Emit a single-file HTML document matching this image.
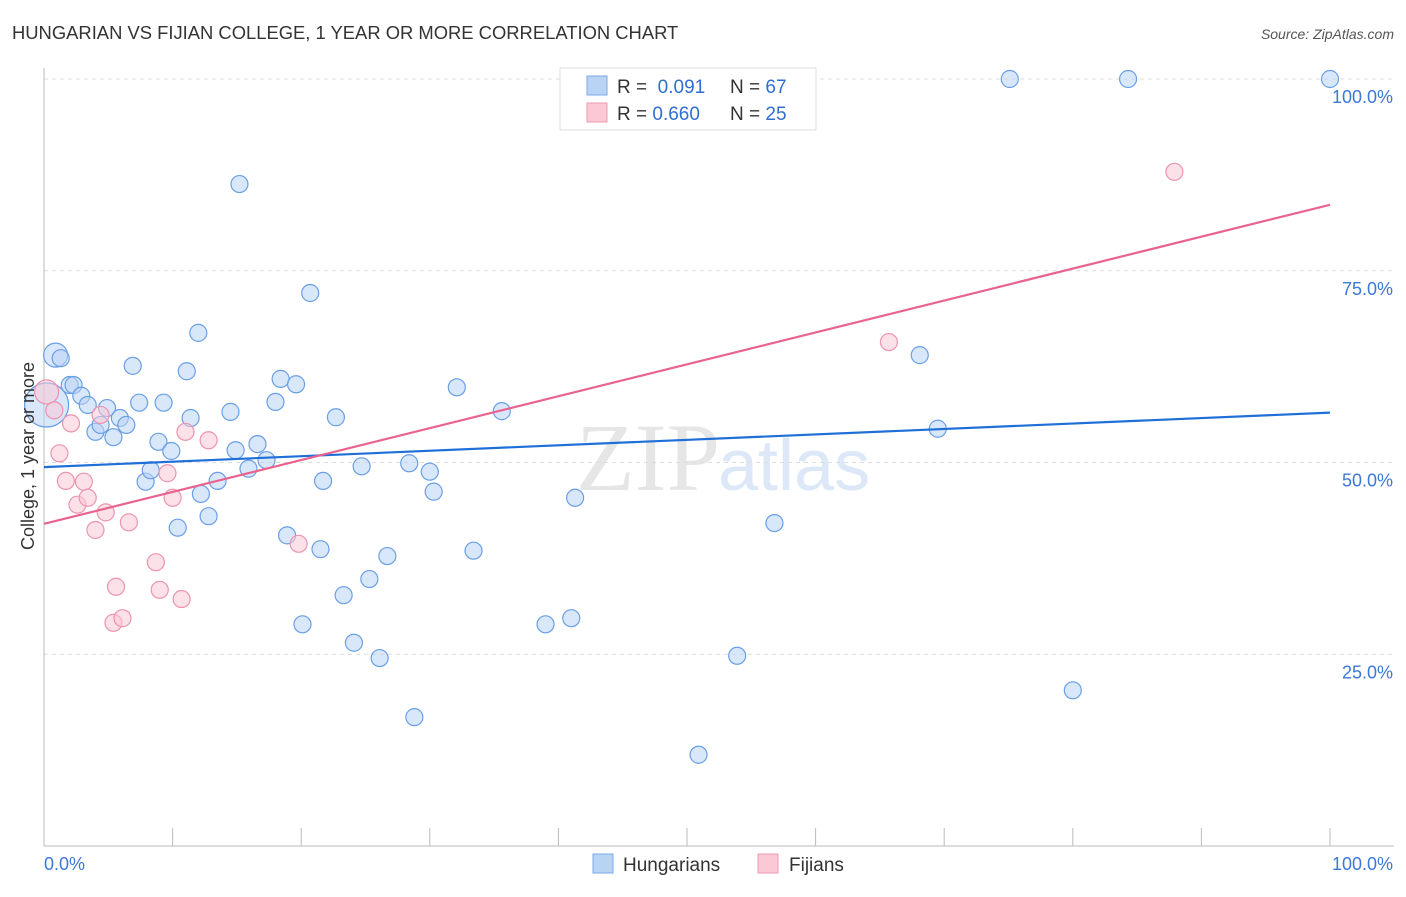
<!DOCTYPE html>
<html><head><meta charset="utf-8"><style>
body{margin:0;background:#fff;font-family:"Liberation Sans",sans-serif;}
</style></head><body>
<svg id="chart" width="1406" height="892" xmlns="http://www.w3.org/2000/svg">
<text x="12" y="39" font-size="18.4" fill="#333">HUNGARIAN VS FIJIAN COLLEGE, 1 YEAR OR MORE CORRELATION CHART</text>
<text x="1394" y="39" font-size="14" fill="#555" font-style="italic" text-anchor="end">Source: ZipAtlas.com</text>
<text x="720" y="490" font-size="96" fill="#e6e6e6" font-family="Liberation Serif,serif" text-anchor="end">ZIP</text>
<text x="718" y="490" font-size="72" fill="#dce8f7">atlas</text>
<g id="grid"></g>
<g id="axes"></g>
<g id="marks"></g>
<text transform="translate(34,456) rotate(-90)" font-size="18" fill="#333" text-anchor="middle">College, 1 year or more</text>
<g>
<rect x="560" y="68" width="256" height="62" fill="#fff" stroke="#ddd"/>
<rect x="587" y="76" width="20" height="19" fill="#b9d3f5" stroke="#7aa8e8"/>
<rect x="587" y="103" width="20" height="19" fill="#fbc8d6" stroke="#ee9ab3"/>
<text x="617" y="93" font-size="19" fill="#333">R = <tspan fill="#2f6fd1">&#160;0.091</tspan></text>
<text x="730" y="93" font-size="19" fill="#333">N = <tspan fill="#2f6fd1">67</tspan></text>
<text x="617" y="120" font-size="19" fill="#333">R = <tspan fill="#2f6fd1">0.660</tspan></text>
<text x="730" y="120" font-size="19" fill="#333">N = <tspan fill="#2f6fd1">25</tspan></text>
</g>
<g>
<rect x="593" y="854" width="20" height="19" fill="#b9d3f5" stroke="#7aa8e8"/>
<text x="623" y="871" font-size="19" fill="#333">Hungarians</text>
<rect x="758" y="854" width="20" height="19" fill="#fbc8d6" stroke="#ee9ab3"/>
<text x="789" y="871" font-size="19" fill="#333">Fijians</text>
</g>
</svg>
<script>
const hunX=[0.9,1.3,2.0,2.3,2.9,3.4,4.0,4.4,4.9,5.4,5.9,6.4,6.9,7.4,7.9,8.3,8.9,9.3,9.9,10.4,11.1,11.4,12.0,12.2,12.8,13.5,14.5,14.9,15.2,15.9,16.6,17.3,18.0,18.4,18.9,19.6,20.1,20.7,21.5,21.7,22.7,23.3,24.1,24.7,25.3,26.1,26.7,28.4,28.8,30.0,30.3,32.1,33.4,35.6,39.0,41.0,41.3,50.9,53.9,56.8,68.1,69.5,75.1,80.0,84.3,100,0.2];
const hunY=[64.0,63.6,60.1,60.1,58.7,57.5,54.0,54.9,57.1,53.3,55.8,54.9,62.6,57.8,47.5,49.0,52.7,57.8,51.5,41.5,61.9,55.8,66.9,45.9,43.0,47.6,56.6,51.6,86.3,49.2,52.4,50.3,57.9,60.9,40.5,60.2,28.9,72.1,38.7,47.6,55.9,32.7,26.5,49.5,34.8,24.5,37.8,49.9,16.8,48.8,46.2,59.8,38.5,56.7,28.9,29.7,45.4,11.9,24.8,42.1,64.0,54.4,100,20.3,100,100,57.5];
const fijX=[0.2,0.8,1.2,1.7,2.1,2.6,3.1,3.4,4.0,4.4,4.8,5.4,5.6,6.1,6.6,8.7,9.0,9.6,10.0,10.7,11.0,12.8,19.8,65.7,87.9];
const fijY=[59.2,56.8,51.2,47.6,55.1,44.5,47.5,45.4,41.2,56.2,43.5,29.1,33.8,29.7,42.2,37.0,33.4,48.6,45.4,32.2,54.0,52.9,39.4,65.7,87.9];
const hunTrend=[49.4,56.5];
const fijTrend=[42.0,83.6];
const yTicks=[25,50,75,100];
const xTickLabels=["0.0%","100.0%"];
const X0=44,X1=1330,Y0=846,Y100=79;
const sx=v=>X0+(X1-X0)*v/100, sy=v=>Y0-(Y0-Y100)*v/100;
const NS="http://www.w3.org/2000/svg";
function mk(t,a,p){const e=document.createElementNS(NS,t);for(const k in a)e.setAttribute(k,a[k]);p.appendChild(e);return e;}
const grid=document.getElementById('grid'),axes=document.getElementById('axes'),marks=document.getElementById('marks');
yTicks.forEach(t=>{
 const l=mk('line',{x1:X0,x2:1394,y1:sy(t),y2:sy(t),stroke:'#ddd','stroke-dasharray':'4,4'},grid);
 
 
 const tx=mk('text',{x:1393,y:sy(t)+24,'font-size':18,fill:'#3b78d8','text-anchor':'end'},axes);
 tx.textContent=t.toFixed(1)+'%';
 
 
});
const ax=mk('line',{x1:X0,x2:1394,y1:Y0,y2:Y0,stroke:'#bbb'},axes);


const ay=mk('line',{x1:X0,x2:X0,y1:68,y2:Y0,stroke:'#bbb'},axes);


for(let i=0;i<=10;i++){const tk=mk('line',{x1:sx(i*10),x2:sx(i*10),y1:Y0,y2:Y0-18,stroke:'#bbb'},axes);
 
 }
const xl0=mk('text',{x:44,y:870,'font-size':18,fill:'#3b78d8'},axes);xl0.textContent=xTickLabels[0];


const xl1=mk('text',{x:1393,y:870,'font-size':18,fill:'#3b78d8','text-anchor':'end'},axes);xl1.textContent=xTickLabels[1];


function pts(xs,ys,fill,stroke,name,big){
 xs.forEach((x,i)=>{let r=8.5;if(big[i])r=big[i];
  const c=mk('circle',{cx:sx(x),cy:sy(ys[i]),r:r,fill:fill,stroke:stroke,'stroke-width':1.2,'fill-opacity':0.55},marks);
  
  });
}
pts(hunX,hunY,'#b9d3f5','#6a9fe6','hungarian-point',{0:12,66:22});
pts(fijX,fijY,'#fbc8d6','#ec94b0','fijian-point',{0:12});
const t1=mk('line',{x1:sx(0),x2:sx(100),y1:sy(hunTrend[0]),y2:sy(hunTrend[1]),stroke:'#1f6fd8','stroke-width':2.2},marks);


const t2=mk('line',{x1:sx(0),x2:sx(100),y1:sy(fijTrend[0]),y2:sy(fijTrend[1]),stroke:'#e8648f','stroke-width':2.2},marks);


</script>
</body></html>
